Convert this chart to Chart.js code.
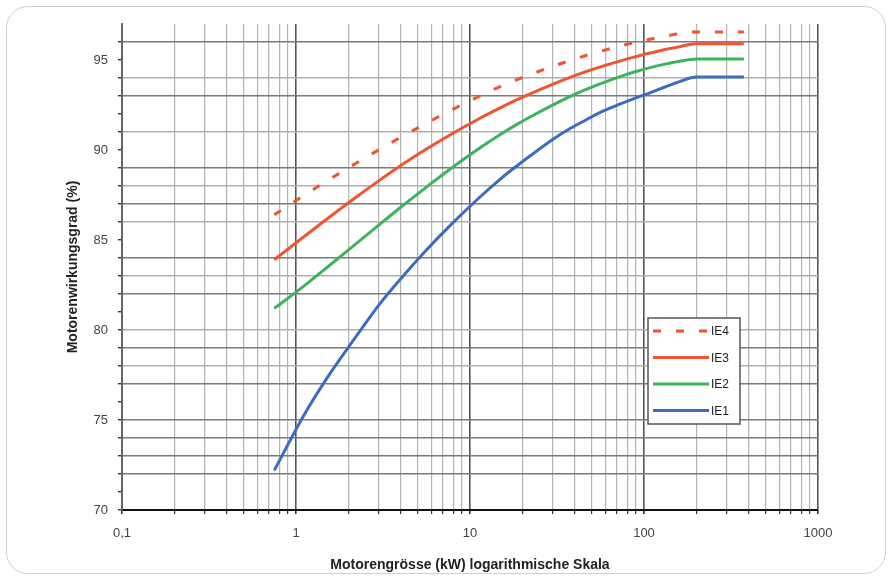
<!DOCTYPE html>
<html>
<head>
<meta charset="utf-8">
<script src="https://cdn.jsdelivr.net/npm/chart.js@4.4.1/dist/chart.umd.min.js"></script>
<style>
  html, body { margin: 0; padding: 0; background: #fff; }
  #frame {
    position: absolute; left: 6px; top: 6px; width: 878px; height: 566px;
    border: 1.5px solid #cfcfcf; border-radius: 22px;
  }
  #wrap { position: absolute; left: 0; top: 0; width: 888px; height: 578px; }
</style>
</head>
<body>
<div id="frame"></div>
<div id="wrap"><canvas id="effChart"></canvas></div>
<script>
// motor size in kW (log x axis)
const kw = [0.75, 1.1, 1.5, 2.2, 3, 4, 5.5, 7.5, 11, 15, 18.5, 22, 30, 37, 45, 55, 75, 90, 110, 132, 160, 200, 375];

// efficiency in % per class
const ie4 = [86.4, 87.45, 88.27, 89.25, 90.02, 90.71, 91.44, 92.13, 92.93, 93.54, 93.9, 94.18, 94.65, 94.95, 95.21, 95.46, 95.81, 95.99, 96.17, 96.32, 96.46, 96.56, 96.56];
const ie3 = [83.9, 85.15, 86.15, 87.36, 88.3, 89.14, 90.0, 90.78, 91.68, 92.35, 92.78, 93.11, 93.66, 94.01, 94.31, 94.59, 94.98, 95.19, 95.4, 95.58, 95.74, 95.9, 95.9];
const ie2 = [81.2, 82.41, 83.46, 84.77, 85.84, 86.82, 87.87, 88.86, 90.01, 90.87, 91.41, 91.82, 92.51, 92.94, 93.31, 93.65, 94.12, 94.36, 94.59, 94.77, 94.93, 95.05, 95.05];
const ie1 = [72.2, 75.2, 77.3, 79.6, 81.4, 82.85, 84.35, 85.7, 87.25, 88.4, 89.1, 89.65, 90.6, 91.15, 91.6, 92.05, 92.6, 92.9, 93.2, 93.5, 93.8, 94.05, 94.05];

const seriesLabels = ["IE4", "IE3", "IE2", "IE1"];
const xTickLabels = { 0.1: "0,1", 1: "1", 10: "10", 100: "100", 1000: "1000" };

// horizontal grid lines that are faint or not visible in the scan
const hiddenRows = [71, 76, 81, 85, 90, 92, 95, 97];
const lightRows = [78, 80, 83, 86, 88, 91, 94];

const red = "#ef5533";
const green = "#3db35c";
const blue = "#3b6cc0";
const fontName = "'Liberation Sans', Arial, sans-serif";

function toPoints(values) {
  return values.map((v, i) => ({ x: kw[i], y: v }));
}

function isDecade(v) {
  let e = Math.log10(v);
  return Math.abs(e - Math.round(e)) < 1e-6;
}

function rowColor(c) {
  if (!c.tick) return "#808080";
  if (hiddenRows.includes(c.tick.value)) return "rgba(0,0,0,0)";
  if (lightRows.includes(c.tick.value)) return "#b0b0b0";
  return "#7a7a7a";
}

// legend box drawn inside the plot, bottom right
const legendBox = {
  id: "legendBox",
  afterDraw(chart) {
    const ctx = chart.ctx;
    const area = chart.chartArea;
    const x = area.right - 170;
    const y = area.top + 294;
    const w = 92;
    const h = 106;
    ctx.save();
    ctx.fillStyle = "#fff";
    ctx.fillRect(x, y, w, h);
    ctx.strokeStyle = "#555";
    ctx.lineWidth = 1.5;
    ctx.strokeRect(x, y, w, h);
    chart.data.datasets.forEach((ds, i) => {
      let ly = y + 13 + i * 26.5;
      ctx.beginPath();
      ctx.setLineDash(ds.borderDash || []);
      ctx.strokeStyle = ds.borderColor;
      ctx.lineWidth = ds.borderWidth;
      ctx.moveTo(x + 5, ly);
      ctx.lineTo(x + 61, ly);
      ctx.stroke();
      ctx.setLineDash([]);
      ctx.fillStyle = "#222";
      ctx.font = "12px " + fontName;
      ctx.textBaseline = "middle";
      ctx.fillText(ds.label, x + 63, ly + 1);
    });
    ctx.restore();
  },
};

const ctx = document.getElementById("effChart").getContext("2d");
const chart1 = new Chart(ctx, {
  type: "line",
  data: {
    datasets: [
      { label: seriesLabels[0], data: toPoints(ie4), borderColor: red, borderWidth: 3, borderDash: [8, 15] },
      { label: seriesLabels[1], data: toPoints(ie3), borderColor: red, borderWidth: 3 },
      { label: seriesLabels[2], data: toPoints(ie2), borderColor: green, borderWidth: 3 },
      { label: seriesLabels[3], data: toPoints(ie1), borderColor: blue, borderWidth: 3 },
    ],
  },
  options: {
    responsive: true,
    maintainAspectRatio: false,
    animation: false,
    layout: { padding: { left: 0, top: 24, right: 70, bottom: 0 } },
    elements: {
      point: { radius: 0 },
      line: { cubicInterpolationMode: "monotone", borderCapStyle: "butt" },
    },
    plugins: {
      legend: { display: false },
      tooltip: { enabled: false },
    },
    scales: {
      x: {
        type: "logarithmic",
        min: 0.1,
        max: 1000,
        afterFit: (scale) => { scale.height = 68; },
        afterBuildTicks: (scale) => {
          // keep only 1..9 x 10^n
          scale.ticks = scale.ticks.filter((t) => {
            let m = t.value / Math.pow(10, Math.floor(Math.log10(t.value) + 1e-9));
            return Math.abs(m - Math.round(m)) < 1e-6;
          });
        },
        ticks: {
          autoSkip: false,
          maxRotation: 0,
          padding: 12,
          color: "#444",
          font: { family: fontName, size: 13 },
          callback: function (value) {
            for (let k in xTickLabels) {
              if (Math.abs(value - Number(k)) < 1e-9) return xTickLabels[k];
            }
            return "";
          },
        },
        grid: {
          color: (c) => (c.tick && isDecade(c.tick.value) ? "#555" : "#b4b4b4"),
          lineWidth: (c) => (c.tick && isDecade(c.tick.value) ? 1.6 : 1.2),
          tickLength: 4,
          tickColor: "#333",
        },
        border: { display: true, color: "#111", width: 2 },
        title: {
          display: true,
          text: "Motorengrösse (kW) logarithmische Skala",
          color: "#222",
          font: { family: fontName, size: 14, weight: "bold" },
          padding: { top: 0, bottom: 4 },
        },
      },
      y: {
        type: "linear",
        min: 70,
        max: 97,
        afterFit: (scale) => { scale.width = 122; },
        ticks: {
          stepSize: 1,
          autoSkip: false,
          padding: 10,
          color: "#444",
          font: { family: fontName, size: 13 },
          callback: (value) => (value % 5 === 0 ? value : ""),
        },
        grid: {
          color: rowColor,
          lineWidth: 1.4,
          tickLength: 4,
          tickColor: (c) => (c.tick && c.tick.value === 97 ? "rgba(0,0,0,0)" : "#333"),
        },
        border: { display: true, color: "#666", width: 2 },
        title: {
          display: true,
          text: "Motorenwirkungsgrad (%)",
          color: "#222",
          font: { family: fontName, size: 14, weight: "bold" },
          padding: { top: 65, bottom: 0 },
        },
      },
    },
  },
  plugins: [legendBox],
});
</script>
</body>
</html>
